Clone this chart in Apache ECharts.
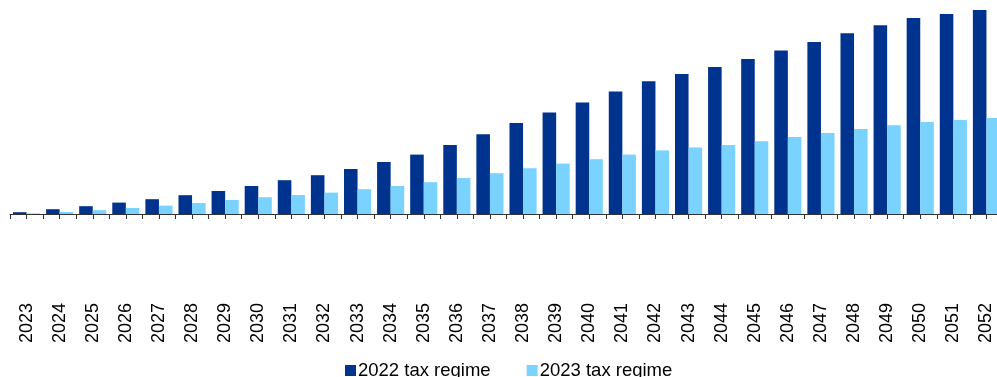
<!DOCTYPE html>
<html>
<head>
<meta charset="utf-8">
<script src="https://cdn.jsdelivr.net/npm/echarts@6/dist/echarts.min.js"></script>
<style>
  html, body { margin: 0; padding: 0; background: #ffffff; }
  #chart { width: 997px; height: 377px; }
</style>
</head>
<body>
<div id="chart"></div>
<script>
// Projection years on the category axis
const years = [
  '2023','2024','2025','2026','2027','2028','2029','2030','2031','2032',
  '2033','2034','2035','2036','2037','2038','2039','2040','2041','2042',
  '2043','2044','2045','2046','2047','2048','2049','2050','2051','2052'
];

// Cumulative values under each tax regime
const regime2022 = [
  0.9, 2.4, 3.9, 5.7, 7.4, 9.4, 11.5, 14.0, 16.9, 19.4,
  22.5, 26.0, 29.7, 34.5, 39.9, 45.5, 50.7, 55.7, 61.2, 66.4,
  70.0, 73.5, 77.5, 81.7, 86.0, 90.4, 94.4, 98.0, 100.0, 102.0
];
const regime2023 = [
  0.3, 1.0, 1.9, 3.0, 4.2, 5.5, 7.0, 8.4, 9.5, 10.7,
  12.4, 14.0, 15.9, 18.0, 20.4, 22.9, 25.2, 27.4, 29.7, 31.8,
  33.2, 34.5, 36.4, 38.5, 40.5, 42.5, 44.4, 46.0, 47.0, 48.0
];

const seriesNames = ['2022 tax regime', '2023 tax regime'];

const chart = echarts.init(document.getElementById('chart'), null, { renderer: 'canvas' });

const tickStyle = { color: '#333333', width: 1 };

chart.setOption({
  animation: false,
  backgroundColor: '#ffffff',
  // plot area runs a little past the right edge of the canvas
  grid: {
    left: 10, width: 993, top: 0, height: 214,
    containLabel: false,
    outerBoundsMode: 'none'
  },
  legend: {
    data: seriesNames,
    left: 345,
    top: 361,
    padding: 0,
    itemWidth: 11,
    itemHeight: 11,
    itemGap: 36,
    icon: 'rect',
    textStyle: {
      fontFamily: 'Liberation Sans, Arial, sans-serif',
      fontSize: 18.5,
      color: '#000000',
      padding: [0, 0, 0, -3]
    }
  },
  xAxis: [
    {
      type: 'category',
      data: years,
      position: 'bottom',
      axisLine: { show: true, lineStyle: { color: '#333333', width: 1 } },
      axisTick: { show: true, interval: 0, alignWithLabel: false, length: 5, lineStyle: tickStyle },
      axisLabel: {
        interval: 0,
        rotate: 90,
        margin: 89,
        fontFamily: 'Liberation Sans, Arial, sans-serif',
        fontSize: 18,
        color: '#000000'
      },
      splitLine: { show: false }
    },
    {
      // second pass over the same categories draws the mid-category ticks
      type: 'category',
      data: years,
      position: 'bottom',
      axisLine: { show: false },
      axisTick: { show: true, interval: 0, alignWithLabel: true, length: 5, lineStyle: tickStyle },
      axisLabel: { show: false },
      splitLine: { show: false }
    }
  ],
  yAxis: {
    type: 'value',
    min: 0,
    max: 107,
    show: false,
    splitLine: { show: false }
  },
  series: [
    {
      name: seriesNames[0],
      type: 'bar',
      data: regime2022,
      barGap: '0%',
      barCategoryGap: '18%',
      itemStyle: { color: '#00338D' }
    },
    {
      name: seriesNames[1],
      type: 'bar',
      data: regime2023,
      barGap: '0%',
      barCategoryGap: '18%',
      itemStyle: { color: '#7AD2FF' }
    }
  ]
});
</script>
</body>
</html>
